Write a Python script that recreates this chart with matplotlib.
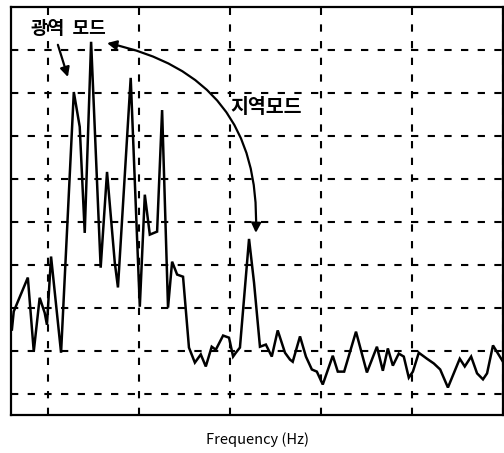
import matplotlib
matplotlib.use("Agg")
import matplotlib.pyplot as plt

plt.rcParams['font.family'] = ['Noto Sans CJK KR', 'DejaVu Sans']

# Spectrum samples: frequency (Hz) and amplitude (grid units)
freq = [0.121, 0.125, 0.156, 0.169, 0.182, 0.193, 0.198, 0.207, 0.229, 0.257,
        0.270, 0.281, 0.295, 0.316, 0.330, 0.347, 0.354, 0.382, 0.402, 0.413,
        0.424, 0.440, 0.451, 0.464, 0.473, 0.484, 0.497, 0.510, 0.523, 0.536,
        0.547, 0.560, 0.569, 0.585, 0.598, 0.607, 0.613, 0.622, 0.642, 0.653,
        0.666, 0.679, 0.692, 0.705, 0.721, 0.732, 0.738, 0.754, 0.767, 0.780,
        0.791, 0.804, 0.826, 0.837, 0.851, 0.877, 0.901, 0.923, 0.936, 0.947,
        0.958, 0.971, 0.982, 0.993, 1.002, 1.015, 1.033, 1.048, 1.062, 1.079,
        1.105, 1.116, 1.130, 1.143, 1.156, 1.165, 1.178, 1.189, 1.200]
amplitude = [1.49, 1.91, 2.70, 0.98, 2.23, 1.88, 1.60, 3.19, 0.95, 7.02,
             6.21, 3.74, 8.19, 2.93, 5.16, 3.05, 2.47, 7.35, 2.02, 4.63,
             3.70, 3.77, 6.60, 2.00, 3.07, 2.77, 2.72, 1.07, 0.72, 0.91,
             0.63, 1.09, 1.02, 1.35, 1.30, 0.86, 0.95, 1.07, 3.60, 2.58,
             1.09, 1.14, 0.86, 1.47, 0.95, 0.79, 0.74, 1.33, 0.86, 0.56,
             0.51, 0.21, 0.88, 0.51, 0.51, 1.44, 0.49, 1.09, 0.53, 1.05,
             0.65, 0.93, 0.86, 0.37, 0.51, 0.95, 0.81, 0.70, 0.56, 0.14,
             0.81, 0.63, 0.86, 0.47, 0.33, 0.47, 1.12, 0.93, 0.74]

x_grid = [0.2, 0.4, 0.6, 0.8, 1.0, 1.2]
y_grid = [0, 1, 2, 3, 4, 5, 6, 7, 8]

fig = plt.figure(figsize=(5.04, 4.53), dpi=100)
ax = fig.add_axes([11 / 504, 38 / 453, 492 / 504, 408 / 453])

ax.plot(freq, amplitude, color='black', lw=1.8, solid_joinstyle='miter')

ax.set_xlim(0.119, 1.2)
ax.set_ylim(-0.5, 9)
ax.set_xticks(x_grid)
ax.set_yticks(y_grid)
ax.set_xticklabels([])
ax.set_yticklabels([])
ax.tick_params(length=0)
ax.grid(True, color='black', linestyle=(0, (3.5, 4.5)), linewidth=1.5)
for side in ax.spines.values():
    side.set_linewidth(1.6)

ax.set_xlabel('Frequency (Hz)', fontsize=10.5, labelpad=9)

# Mode labels and arrows
ax.text(0.244, 8.51, '광역  모드', fontsize=13, fontweight='bold',
        ha='center', va='center')
ax.annotate('', xy=(0.244, 7.37), xytext=(0.222, 8.12),
            arrowprops=dict(arrowstyle='-|>', color='black', lw=1.6,
                            mutation_scale=14, shrinkA=0, shrinkB=0))

ax.text(0.679, 6.66, '지역모드', fontsize=14, fontweight='bold',
        ha='center', va='center',
        bbox=dict(facecolor='white', edgecolor='none', pad=1))
ax.annotate('', xy=(0.657, 3.74), xytext=(0.330, 8.16),
            arrowprops=dict(arrowstyle='<|-|>', color='black', lw=1.6,
                            mutation_scale=14, shrinkA=0, shrinkB=0,
                            connectionstyle='arc3,rad=-0.42'))

fig.savefig('out.png', dpi=100)
